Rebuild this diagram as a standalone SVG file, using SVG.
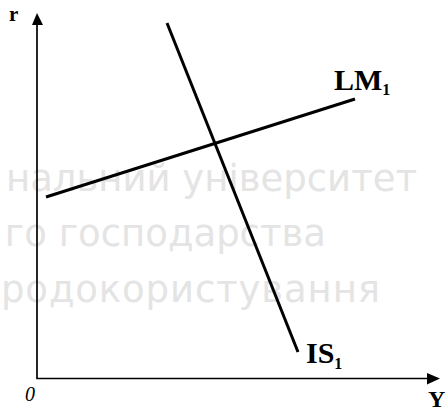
<svg xmlns="http://www.w3.org/2000/svg" width="448" height="409" viewBox="0 0 448 409">
<style>
.wm{font-family:"DejaVu Sans","Noto Sans",sans-serif;font-size:37px;fill:#e4e4e4}
.lbl{font-family:"Liberation Serif","Times New Roman",serif;font-weight:bold;fill:#000}
.ax{stroke:#000;stroke-width:1.7;fill:none}
.curve{stroke:#000;stroke-width:3;fill:none}
</style>
<g id="watermark">
<text class="wm" x="417" y="191" text-anchor="end">нальний університет</text>
<text class="wm" x="326" y="246" text-anchor="end">го господарства</text>
<text class="wm" x="1" y="302" textLength="379" lengthAdjust="spacing">родокористування</text>
</g>
<g id="axes">
<line class="ax" x1="37" y1="378" x2="37" y2="24"/>
<polygon points="37,13 32,25 43,25" fill="#000"/>
<line class="ax" x1="36.2" y1="378.5" x2="428" y2="378.5"/>
<polygon points="440,378.5 427,373 427,384.5" fill="#000"/>
<text class="lbl" x="9" y="21" font-size="21">r</text>
<text x="25" y="401" font-family="Liberation Serif,serif" font-style="italic" font-size="20">0</text>
<text class="lbl" x="428" y="407" font-size="24">Y</text>
</g>
<g id="connectors">
<line id="LM" class="curve" x1="46" y1="197" x2="355" y2="99"/>
<line id="IS" class="curve" x1="167" y1="23" x2="298" y2="352"/>
</g>
<g id="LM1">
<text class="lbl" x="334" y="90" font-size="30">LM<tspan font-size="16" dy="5">1</tspan></text>
</g>
<g id="IS1">
<text class="lbl" x="306" y="363" font-size="30">IS<tspan font-size="16" dy="6">1</tspan></text>
</g>
</svg>
